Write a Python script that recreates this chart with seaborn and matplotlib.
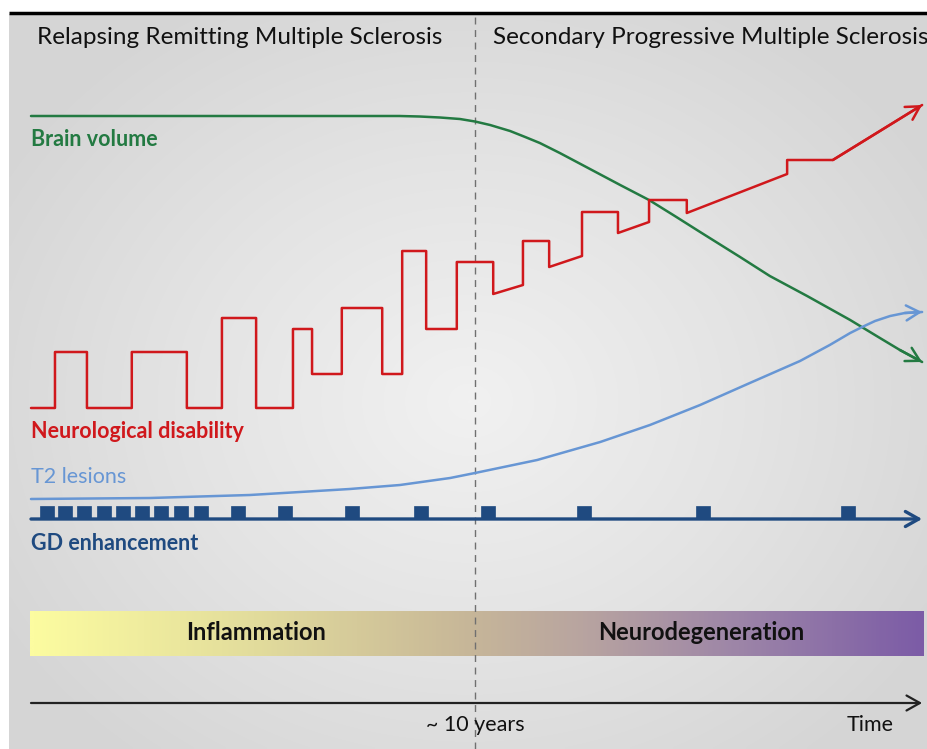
import numpy as np
import pandas as pd
import matplotlib
matplotlib.use("Agg")
import matplotlib.pyplot as plt
from matplotlib.colors import LinearSegmentedColormap
import seaborn as sns

# ---------------- data (time in years, level in schematic units: 0 = top, 749 = bottom) -------------
disability_t = [0.00, 0.54, 0.54, 1.26, 1.26, 2.27, 2.27, 3.51, 3.51, 4.30, 4.30, 5.07, 5.07,
                5.90, 5.90, 6.33, 6.33, 7.00, 7.00, 7.91, 7.91, 8.36, 8.36, 8.90, 8.90,
                9.59, 9.59, 10.41, 10.41, 11.08, 11.08, 11.67, 11.67, 12.41, 12.41, 13.22,
                13.22, 13.92, 13.92, 14.77, 14.77, 17.03, 17.03, 18.06, 20.07]
disability_y = [408, 408, 352, 352, 408, 408, 352, 352, 408, 408, 318, 318, 408,
                408, 329, 329, 374, 374, 308, 308, 374, 374, 251, 251, 329,
                329, 262, 262, 294, 285, 241, 241, 267, 256, 212, 212,
                233, 222, 200, 200, 213, 174, 160, 160, 105]

brain_t = [0.00, 3.00, 6.00, 8.30, 8.75, 9.21, 9.66, 10.00, 10.34, 10.79, 11.13, 11.46,
           11.91, 12.59, 13.27, 13.92, 14.50, 15.07, 15.97, 16.64, 17.48, 18.45, 19.12,
           19.57, 20.07]
brain_y = [116, 116, 116, 116, 116.5, 117.5, 119, 121.5, 125, 131, 137, 143,
           153, 169, 185, 200, 216, 232, 257, 276, 296, 320, 338, 350, 362]

t2_t = [0.00, 2.68, 4.93, 6.06, 7.18, 8.31, 9.44, 10.00, 11.40, 12.82, 13.94, 15.07,
        16.19, 17.32, 17.99, 18.45, 18.72, 19.01, 19.35, 19.68, 20.07]
t2_y = [499, 498, 495, 492, 489, 485, 478, 473, 460, 442, 425, 405,
        383, 361, 345, 333, 327, 321, 316, 313, 312]

gd_t = [0.36, 0.77, 1.19, 1.64, 2.07, 2.50, 2.93, 3.38, 3.83, 4.66, 5.72, 7.23,
        8.78, 10.29, 12.45, 15.14, 18.40]

phase_titles = ["Relapsing Remitting Multiple Sclerosis", "Secondary Progressive Multiple Sclerosis"]
series_labels = ["Brain volume", "Neurological disability", "T2 lesions", "GD enhancement"]
process_labels = ["Inflammation", "Neurodegeneration"]
time_labels = ["~ 10 years", "Time"]
transition_year = 10

# ---------------- layout ---------------------------------------------------------------------------
W, H = 927, 749
X0_PX, PX_PER_YEAR = 31, 44.4
def px(x):
    return (x - X0_PX) / PX_PER_YEAR

RED, GREEN, LBLUE, DBLUE = "#d0181c", "#237a42", "#6796d4", "#1f4a80"
GD_AXIS_Y, GD_H, GD_W = 519, 13, 14 / PX_PER_YEAR
END_T = 20.07

sns.set_theme(style="white")
plt.rcParams['font.family'] = ['Lato', 'DejaVu Sans']

fig = plt.figure(figsize=(W / 100, H / 100), dpi=100)
ax = fig.add_axes([0, 0, 1, 1])
ax.set_xlim(px(0), px(W))
ax.set_ylim(H, 0)
ax.axis("off")

# background radial gradient panel
yy, xx = np.mgrid[0:200, 0:250]
r = np.sqrt(((xx - 125) / 125) ** 2 + ((yy - 105) / 105) ** 2)
bg = np.clip(r, 0, 1.2)
bg_cmap = LinearSegmentedColormap.from_list("bg", ["#f1f1f1", "#e4e4e4", "#d5d5d5"])
ax.imshow(bg, cmap=bg_cmap, extent=[px(9), px(W), H, 14], aspect="auto", zorder=0,
          interpolation="bilinear")
ax.plot([px(9), px(W)], [13, 13], color="black", lw=2.5, zorder=1, solid_capstyle="butt")

# dashed transition line
ax.axvline(transition_year, ymin=0, ymax=1 - 14 / H, color="#707070", lw=1.0,
           dashes=(5, 4), zorder=2)

# curves
def curve(t, y, color, lw=1.8):
    df = pd.DataFrame({"t": t, "y": y})
    sns.lineplot(data=df, x="t", y="y", ax=ax, color=color, lw=lw, sort=False,
                 estimator=None, zorder=4)
    ax.annotate("", xy=(t[-1], y[-1]), xytext=(t[-2], y[-2]),
                arrowprops=dict(arrowstyle="->,head_length=0.8,head_width=0.45",
                                color=color, lw=lw, shrinkA=0, shrinkB=0), zorder=5)

curve(brain_t, brain_y, GREEN)
curve(t2_t, t2_y, LBLUE)
curve(disability_t, disability_y, RED)

# GD enhancement axis + blocks
ax.annotate("", xy=(END_T, GD_AXIS_Y), xytext=(0, GD_AXIS_Y),
            arrowprops=dict(arrowstyle="->,head_length=0.8,head_width=0.45",
                            color=DBLUE, lw=2.4, shrinkA=0, shrinkB=0), zorder=4)
ax.bar(gd_t, [-GD_H] * len(gd_t), bottom=GD_AXIS_Y, width=GD_W, color=DBLUE,
       edgecolor=DBLUE, linewidth=0.5, zorder=4)

# process gradient bar
grad = np.linspace(0, 1, 300).reshape(1, -1)
proc_cmap = LinearSegmentedColormap.from_list(
    "proc", [(0, "#fcfca0"), (0.25, "#e2dc9c"), (0.48, "#c8b898"), (0.62, "#b8a4a0"),
             (0.8, "#9c84a8"), (1, "#7c5ca6")])
ax.imshow(grad, cmap=proc_cmap, extent=[px(30), px(924), 656, 611], aspect="auto",
          zorder=1, interpolation="bilinear")

# time axis
ax.annotate("", xy=(END_T, 703), xytext=(0, 703),
            arrowprops=dict(arrowstyle="->,head_length=0.8,head_width=0.45",
                            color="#222222", lw=1.6, shrinkA=0, shrinkB=0), zorder=4)

# texts
ax.text(px(37), 37, phase_titles[0], fontsize=17.5, color="#111111", va="center", ha="left")
ax.text(px(493), 37, phase_titles[1], fontsize=17.5, color="#111111", va="center", ha="left",
        clip_on=True)
ax.text(px(31), 139, series_labels[0], fontsize=15.5, color=GREEN, va="center", fontweight="bold")
ax.text(px(31), 431, series_labels[1], fontsize=15.5, color=RED, va="center", fontweight="bold")
ax.text(px(31), 477, series_labels[2], fontsize=15.5, color=LBLUE, va="center")
ax.text(px(31), 544, series_labels[3], fontsize=15.5, color=DBLUE, va="center", fontweight="bold")
ax.text(px(256), 633, process_labels[0], fontsize=17, color="#111111", va="center",
        ha="center", fontweight="bold")
ax.text(px(701), 633, process_labels[1], fontsize=17, color="#111111", va="center",
        ha="center", fontweight="bold")
ax.text(px(475), 725, time_labels[0], fontsize=15.5, color="#111111", va="center", ha="center")
ax.text(px(870), 725, time_labels[1], fontsize=15.5, color="#111111", va="center", ha="center")

fig.savefig("out.png", dpi=100, facecolor="white")
